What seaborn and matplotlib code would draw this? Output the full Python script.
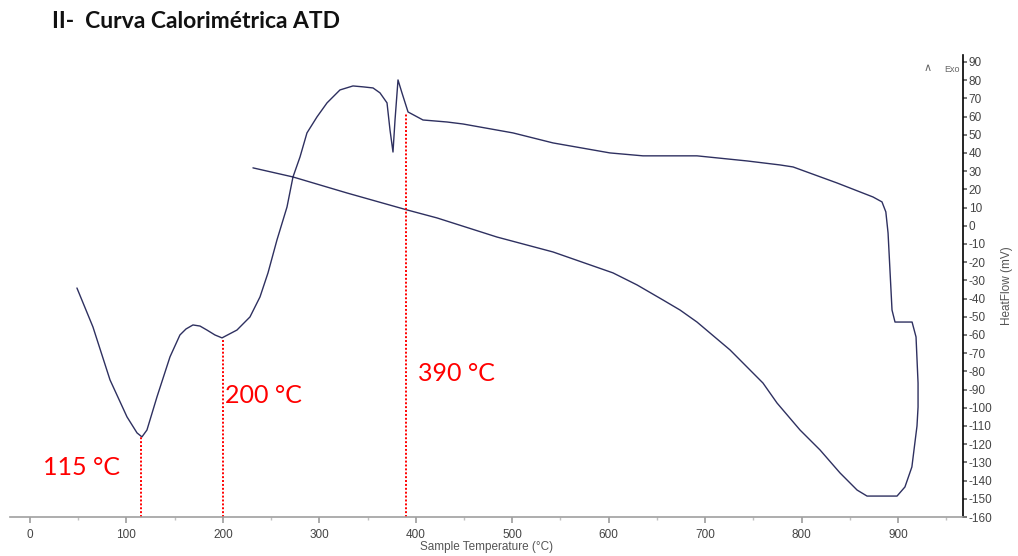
import numpy as np
import pandas as pd
import seaborn as sns
import matplotlib.pyplot as plt
from matplotlib.ticker import MultipleLocator

# DTA loop: heating run then cooling back
temp = [48.7, 65.3, 83.0, 100.6, 111.0, 116.1, 121.3, 131.7, 145.2, 155.5,
        161.8, 169.0, 176.3, 183.5, 191.8, 199.1, 214.6, 228.1, 238.5, 246.8,
        256.1, 266.5, 272.7, 280.0, 287.2, 297.6, 308.0, 321.4, 334.9, 345.3,
        355.7, 362.9, 370.2, 373.3, 376.4, 378.5, 381.6, 385.7, 392.0, 407.5,
        432.4, 449.0, 500.8, 542.3, 601.4, 635.6, 691.6, 743.5, 777.7, 791.2,
        836.8, 874.1, 883.4, 887.4, 889.7, 893.8, 896.9, 914.6, 918.7, 920.8,
        920.8, 919.7, 917.5, 914.4, 907.2, 899.0, 867.9, 857.6, 839.9, 819.2,
        798.4, 774.6, 760.0, 725.8, 691.6, 674.0, 656.4, 629.4, 604.5, 542.3,
        484.2, 422.0, 390.9, 328.7, 272.7, 231.2]
heat_flow = [-34.2, -55.6, -84.7, -105.0, -113.8, -116.0, -112.2, -94.0, -72.0, -60.0,
             -56.7, -54.5, -55.1, -57.3, -60.0, -61.6, -57.3, -50.1, -39.1, -25.9,
             -7.8, 10.3, 26.8, 37.8, 51.0, 59.8, 67.5, 74.6, 76.8, 76.3,
             75.7, 73.0, 67.5, 52.6, 40.5, 58.1, 80.1, 73.0, 62.5, 58.1,
             57.0, 55.9, 51.0, 45.5, 40.0, 38.4, 38.4, 35.6, 33.4, 32.3,
             23.5, 15.8, 13.1, 7.6, -4.0, -46.3, -52.9, -52.9, -61.1, -86.4,
             -99.6, -110.0, -119.3, -132.5, -143.5, -148.5, -148.5, -145.2, -135.8, -123.2,
             -112.2, -97.4, -86.4, -68.2, -52.9, -46.3, -40.8, -32.5, -25.9, -14.4,
             -6.2, 4.3, 8.7, 18.0, 26.8, 31.8]

# marked temperatures
mark_temps = [115, 200, 390]
mark_tops = [-116, -62, 62]
mark_labels = ['115 °C', '200 °C', '390 °C']
label_pos = [(13.5, -133), (202, -93), (402, -81)]

sns.set_theme(style='white')
plt.rcParams['font.family'] = ['Liberation Sans', 'DejaVu Sans']

df = pd.DataFrame({'temp': temp, 'hf': heat_flow})

fig = plt.figure(figsize=(10.18, 5.56), dpi=100)
ax = fig.add_axes([10/1018, 39/556, 953/1018, 462/556])

sns.lineplot(data=df, x='temp', y='hf', sort=False, estimator=None,
             color='#2e3060', linewidth=1.0, ax=ax)
ax.lines[0].set_solid_joinstyle('round')

ax.vlines(mark_temps, -160, mark_tops, colors='red', linestyles=(0, (1, 1)),
          linewidth=1.4)
for lab, (tx, ty) in zip(mark_labels, label_pos):
    ax.text(tx, ty, lab, color='red', fontsize=18, family=['Lato', 'DejaVu Sans'],
            ha='left', va='center')

ax.set_xlim(-20.7, 967.4)
ax.set_ylim(-160, 93.8)

ax.xaxis.set_major_locator(MultipleLocator(100))
ax.xaxis.set_minor_locator(MultipleLocator(50))
ax.yaxis.tick_right()
ax.yaxis.set_label_position('right')
ax.set_yticks(np.arange(-160, 91, 10))
ax.set_yticklabels([str(v) for v in range(-160, 91, 10)])

for side in ['left', 'top']:
    ax.spines[side].set_visible(False)
ax.spines['bottom'].set_color('#a0a0a0')
ax.spines['bottom'].set_linewidth(1.2)
ax.spines['right'].set_color('black')
ax.spines['right'].set_linewidth(1.2)

ax.tick_params(axis='x', which='major', bottom=True, length=4, color='#a0a0a0',
               labelsize=8.5, labelcolor='#444444', pad=5)
ax.tick_params(axis='x', which='minor', bottom=True, length=2, color='#c0c0c0')
ax.tick_params(axis='y', right=True, left=False, length=3, color='#666666',
               labelsize=8.5, labelcolor='#444444', pad=1)

ax.set_xlabel('Sample Temperature (°C)', fontsize=8.5, color='#555555', labelpad=0)
ax.xaxis.set_label_coords(0.5, -0.053)
ax.set_ylabel('HeatFlow (mV)', fontsize=8.5, color='#555555', labelpad=6)

fig.text(928/1018, 1 - 68/556, '∧', fontsize=8, color='#666666',
         family='DejaVu Sans', ha='center', va='center')
fig.text(944/1018, 1 - 69/556, 'Exo', fontsize=6.5, color='#666666', ha='left', va='center')

fig.text(52/1018, 1 - 22/556, 'II-  Curva Calorimétrica ATD', fontsize=16.5,
         fontweight='bold', family=['Lato', 'DejaVu Sans'], color='#111111',
         ha='left', va='center')

fig.savefig('out.png', dpi=100)
